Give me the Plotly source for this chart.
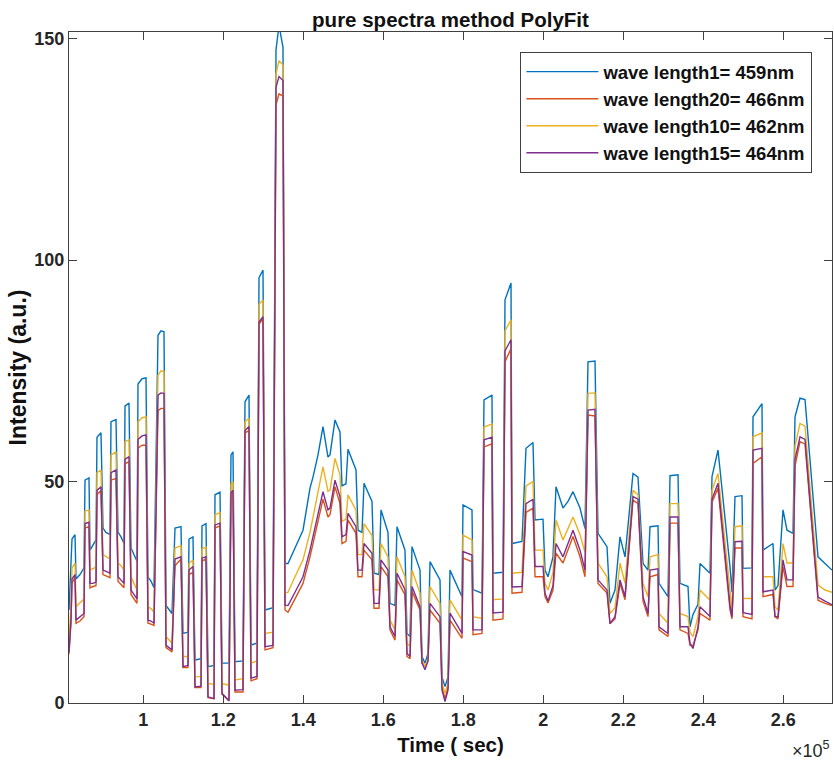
import plotly.graph_objects as go

# time axis (seconds)
time_s = [81425, 81925, 82175, 82925, 83175, 84175, 85175, 85425, 86425, 86675, 87425, 88175,
          88425, 89425, 89925, 90675, 91675, 91925, 93175, 93675, 94425, 95175, 95425, 96425,
          96925, 97675, 98425, 98675, 99675, 100675, 101175, 101925, 102675, 103675, 104425, 105175,
          105675, 107175, 107925, 109425, 109925, 111175, 111425, 112425, 112925, 114425, 114675, 115675,
          116175, 117675, 117925, 119175, 119675, 121425, 121925, 122425, 122925, 124925, 125425, 126425,
          126925, 128425, 128925, 129925, 130425, 132425, 133175, 133925, 134925, 135425, 136175, 137925,
          139925, 141675, 142425, 143675, 144925, 146175, 146675, 147925, 149175, 149675, 150675, 151175,
          153175, 153675, 154675, 155175, 157175, 157675, 158925, 159425, 161175, 161675, 162925, 163425,
          165425, 165925, 166675, 167175, 169175, 169675, 170425, 171175, 171675, 174175, 174675, 175425,
          176175, 176675, 179675, 179925, 182175, 182425, 184675, 185175, 187175, 187425, 189925, 190425,
          191925, 192175, 194675, 195675, 197425, 197925, 199925, 200425, 201175, 202425, 203175, 204925,
          206175, 207425, 209175, 210425, 211175, 212925, 213675, 215925, 216675, 217925, 219175, 220425,
          222425, 223675, 224925, 226175, 226675, 228675, 228925, 231175, 231675, 233675, 234175, 236175,
          236675, 237425, 238675, 239175, 241675, 242175, 243675, 246675, 247175, 247925, 249675, 249925,
          252175, 252425, 254675, 254925, 257425, 257925, 258675, 259925, 260925, 262425, 262925, 264175,
          265425, 268675, 270425, 272175]

# wave length1 = 459nm (blue)
wl459 = [21, 30, 37, 38, 28, 29, 30.5, 50.3, 50.8, 34.5, 35.5, 36.8,
         60, 61, 39.5, 38.5, 38, 63.5, 64, 38.6, 37.5, 36, 67, 67.7,
         35, 33.5, 32, 72, 73.2, 73.4, 28.4, 27.5, 26, 83, 84, 83.8,
         22, 20.2, 39.5, 39.8, 15.7, 16, 37, 37.5, 9.7, 10, 40, 40.5,
         8.2, 8.5, 47, 47.6, 9, 9, 56, 56.7, 9.3, 9.5, 68, 69.5,
         13.1, 13.5, 96, 97.7, 21, 21.5, 147.4, 153, 148, 31.5, 31.5, 35,
         39, 48.5, 51, 56, 62.4, 55.5, 56, 63.9, 61.2, 49, 49.5, 57.3,
         52.6, 39, 38.5, 49.6, 45.5, 29.3, 29, 43.6, 38.5, 22.5, 22, 39.8,
         34.5, 15.7, 15, 35.3, 30, 10.5, 9, 11.2, 31.9, 27.8, 5.9, 3.7,
         5.9, 30, 24, 44.7, 43.6, 25.6, 24.8, 68.4, 69.5, 29.3, 29.5, 91,
         94.8, 36, 36.5, 57.5, 58.8, 41.3, 41.5, 30, 28.5, 33, 48.8, 44,
         45.5, 47.7, 44, 39.4, 77, 77.2, 38.3, 35.3, 22.5, 25.5, 37.5, 33,
         51.8, 51, 31.5, 30, 39.8, 40, 27, 24, 51.3, 51.5, 27, 26.3,
         17.2, 20, 22.3, 31.5, 29.3, 51.1, 57.1, 30.8, 25, 46.6, 46.8, 30.4,
         30.5, 64.6, 67.6, 34.5, 36, 25.5, 26.5, 43.6, 39, 38.3, 64.6, 68.8,
         68.5, 33, 31.5, 30]

# wave length20 = 466nm (red)
wl466 = [11, 18, 27, 28.5, 18, 18.5, 19.5, 39.5, 39.8, 26, 26.3, 26.5,
         47, 48, 29, 28.7, 28.3, 50.3, 50.7, 27.5, 26.8, 26, 54, 54.5,
         24.5, 23.5, 22.5, 57.5, 58.2, 58.2, 18, 17.8, 17.5, 66, 66.5, 66.5,
         12.5, 11.5, 31, 32.5, 8, 8, 29, 29.5, 3.5, 3.5, 32, 32.5,
         1.2, 1, 39.5, 40, 2, 0.5, 47, 47.3, 2.5, 2.5, 61, 61.5,
         5, 5.5, 85.5, 86.8, 12, 12.5, 135, 137.5, 137, 21, 20.5, 23.5,
         27, 33, 36, 41, 46, 42, 42.5, 48.8, 45, 36, 36.5, 41.3,
         38.3, 28.5, 28.5, 34.5, 32.3, 21.4, 21.4, 30.8, 28.5, 16.5, 14.2, 27.8,
         24.4, 10.5, 10, 25.2, 21, 9, 8.2, 9.5, 21, 18, 3.5, 1,
         3.5, 18.7, 14.6, 32.7, 31.9, 15.4, 15.7, 57.8, 58.5, 18.7, 19, 77,
         80, 24.8, 25, 43, 44, 28.5, 28.5, 24, 22.6, 25.5, 33.8, 31.6,
         34.5, 37.6, 33, 28.5, 65, 64.8, 27, 24.8, 17.9, 19, 27, 23.3,
         45.8, 45, 23, 19.5, 28.5, 29, 16.5, 15, 40.6, 40.6, 16.5, 15.7,
         13, 13, 16.5, 20.2, 18.7, 45.3, 48.5, 21, 19, 35, 35, 19.5,
         19, 54.1, 55.6, 24, 24.5, 19.5, 19, 30.8, 26.3, 26.3, 53.5, 59,
         58.5, 23.2, 22.5, 22]

# wave length10 = 462nm (yellow)
wl462 = [14, 22, 30.5, 31.6, 21.7, 22.5, 23.5, 43.3, 43.6, 30, 30.3, 30.7,
         52, 52.6, 33.5, 33, 32.5, 56, 56.7, 31.6, 31, 30, 59, 59.4,
         28.5, 27, 25.5, 63.5, 64.4, 64.6, 21.7, 21.3, 20.5, 74, 75, 74.8,
         15, 13.5, 35, 35.5, 10.5, 10.5, 31.5, 32.3, 5.9, 6, 34.8, 35.2,
         4.4, 4.2, 42.5, 43, 4.4, 4, 49.5, 50, 5.2, 5.5, 63.5, 64.3,
         9, 9.5, 90, 91, 15.7, 16, 142, 145, 144, 24.8, 25, 28.5,
         32.3, 38.5, 42, 47.5, 53.3, 47.8, 48, 55.2, 51.5, 41, 41.5, 47,
         43.5, 33.5, 33.5, 40.5, 37.8, 25.6, 25.5, 36, 33, 18.7, 16.5, 33,
         28.5, 13.4, 12.8, 30, 24.8, 9.7, 8.2, 10, 26.3, 22.5, 4.4, 2.2,
         4.4, 23.3, 18.7, 37.9, 36.8, 19.5, 19.1, 62.3, 63, 23.3, 23.5, 84,
         86.5, 29.3, 29.5, 49, 50, 34.5, 34.5, 27, 25.5, 29.5, 41.3, 36.8,
         39.5, 42, 38, 34, 69.9, 70, 31.6, 28.5, 20.2, 21.5, 31.6, 27,
         48, 47, 27, 24, 33, 33.5, 20.2, 18, 45, 45, 20.2, 19.5,
         16, 15, 19.5, 25.5, 23.2, 48, 51.8, 25, 21, 39.8, 40, 23.6,
         23.6, 60.1, 61, 28.5, 28.5, 21.7, 21, 36, 31.6, 31.6, 58, 63.1,
         62.5, 26.6, 25.5, 25]

# wave length15 = 464nm (purple)
wl464 = [11.5, 19, 28, 29, 18.7, 19.5, 20.2, 40.5, 40.8, 27, 27, 27.3,
         48, 48.8, 30, 29.7, 29.3, 52, 52.6, 28.5, 27.7, 27, 55, 55.6,
         25.5, 24.5, 23.5, 59.5, 60.3, 60.5, 18.7, 18.5, 18, 69.5, 70, 69.9,
         13, 12, 32.5, 33, 8.2, 8.5, 30, 30.8, 3.6, 3.8, 32.7, 33,
         1.4, 1, 40.2, 40.6, 2.2, 0.5, 47.5, 48, 2.9, 3, 61.5, 62.4,
         5.6, 6, 86, 87.2, 12.7, 13, 139, 141.4, 140.5, 22.1, 22, 25,
         28.5, 34.5, 37.5, 42.5, 47.7, 43.6, 44, 50.3, 46.6, 37.5, 38, 42.8,
         39.8, 30, 30, 36, 33.8, 22.5, 22.5, 32.3, 30, 17.2, 15, 29.3,
         25.6, 11.2, 10.5, 26.3, 21.7, 9, 7.5, 9.5, 22.5, 19.5, 2.9, 0.3,
         2.9, 20.3, 15.7, 34.2, 33.4, 16.5, 16.5, 59.4, 60, 20.3, 20.5, 79.5,
         82, 26.2, 26.3, 45, 46, 30.8, 30.8, 24.8, 23, 26.5, 36, 33,
         36, 39, 34.5, 30, 66.1, 66.3, 27.8, 25.5, 17.9, 19.5, 27.8, 24,
         46.6, 46, 24, 20.2, 30, 30.3, 17.2, 15.7, 42, 42, 17.2, 17.2,
         13.5, 12.3, 17.2, 21.7, 19.5, 46, 49.6, 22, 19.5, 36.4, 36.5, 20.4,
         20, 57.1, 57.5, 25.1, 25.5, 19.5, 19.5, 32.3, 27.8, 27.8, 55, 60.1,
         59.5, 23.9, 23, 22.2]

series_names = ["wave length1= 459nm", "wave length20= 466nm",
                "wave length10= 462nm", "wave length15= 464nm"]
series_values = [wl459, wl466, wl462, wl464]
series_colors = ["#0072BD", "#D95319", "#EDB120", "#7E2F8E"]

x_tickvals = [100000, 120000, 140000, 160000, 180000, 200000, 220000, 240000, 260000]
x_ticktext = ["1", "1.2", "1.4", "1.6", "1.8", "2", "2.2", "2.4", "2.6"]
y_tickvals = [0, 50, 100, 150]

FONT = "Liberation Sans, Arial, Helvetica, sans-serif"
AX = "#404040"
TXT = "#262626"

fig = go.Figure()
for name, vals, col in zip(series_names, series_values, series_colors):
    fig.add_trace(go.Scatter(x=time_s, y=vals, mode="lines", name=name,
                             line=dict(color=col, width=1.4)))

fig.update_layout(
    width=834, height=762,
    margin=dict(l=69, r=2, t=32, b=59),
    paper_bgcolor="white", plot_bgcolor="white",
    font=dict(family=FONT, color=TXT, size=18, weight="bold"),
    title=dict(text="pure spectra method PolyFit", x=0.5, xref="paper",
               y=1 - 20 / 762, yref="container", yanchor="middle", xanchor="center",
               font=dict(size=20.5, family=FONT, color="#111111", weight="bold")),
    showlegend=True,
    legend=dict(x=0.5916, y=0.970, xanchor="left", yanchor="top",
                bgcolor="white", bordercolor=AX, borderwidth=1,
                font=dict(size=18.5, family=FONT, color="#111111", weight="bold"),
                itemwidth=72, tracegroupgap=0),
)
fig.update_xaxes(range=[81425, 272175], tickvals=x_tickvals, ticktext=x_ticktext,
                 showgrid=False, zeroline=False, showline=True, linecolor=AX, linewidth=1,
                 mirror="ticks", ticks="inside", ticklen=8, tickcolor=AX,
                 tickfont=dict(size=18, family=FONT, color=TXT, weight="bold"),
                 title=dict(text="Time ( sec)", standoff=9,
                            font=dict(size=20.5, family=FONT, color="#111111", weight="bold")))
fig.update_yaxes(range=[0, 151.47], tickvals=y_tickvals,
                 showgrid=False, zeroline=False, showline=True, linecolor=AX, linewidth=1,
                 mirror="ticks", ticks="inside", ticklen=8, tickcolor=AX,
                 tickfont=dict(size=18, family=FONT, color=TXT, weight="bold"),
                 title=dict(text="Intensity (a.u.)", standoff=1,
                            font=dict(size=23, family=FONT, color="#111111", weight="bold")))
fig.add_annotation(text="×10<sup>5</sup>", xref="paper", yref="paper", x=1.0, y=-0.069,
                   xanchor="right", yanchor="middle", showarrow=False,
                   font=dict(size=18, family=FONT, color=TXT, weight="normal"))

fig.write_html("out.html")
